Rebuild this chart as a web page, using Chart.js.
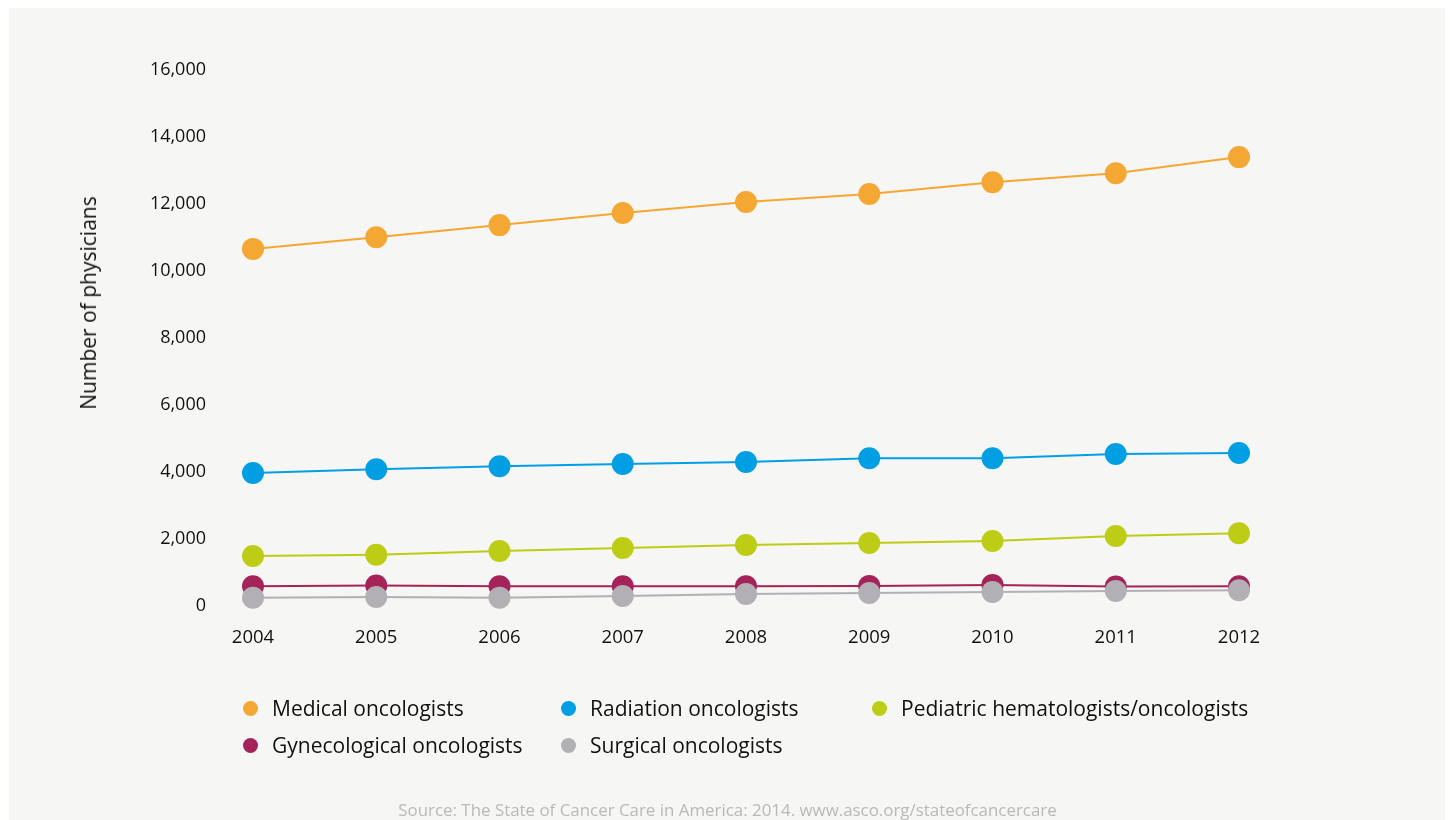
<!DOCTYPE html>
<html><head><meta charset="utf-8">
<script src="https://cdn.jsdelivr.net/npm/chart.js@4/dist/chart.umd.min.js"></script>
<style>
html,body{margin:0;padding:0;background:#fff;width:1450px;height:820px;overflow:hidden;font-family:"Open Sans",sans-serif;}
#panel{position:absolute;left:9px;top:8px;width:1436px;height:812px;background:#f6f6f4;}
#wrap{position:absolute;left:0;top:0;width:1450px;height:820px;}
#ytitle{position:absolute;left:88px;top:303px;transform:translate(-50%,-50%) rotate(-90deg);font-size:21px;color:#111;white-space:nowrap;}
.leg{position:absolute;font-size:21px;color:#111;white-space:nowrap;line-height:24px;}
.leg i{position:absolute;width:15px;height:15px;border-radius:50%;left:-29px;top:5px;}
#source{position:absolute;left:0;width:1455px;text-align:center;top:798px;font-size:16.9px;color:#b9b9b9;}
</style></head>
<body>
<div id="panel"></div>
<div id="wrap"><canvas id="c" width="1450" height="820"></canvas></div>
<div id="ytitle">Number of physicians</div>
<div id="legend"></div>
<div id="source">Source: The State of Cancer Care in America: 2014. www.asco.org/stateofcancercare</div>
<script>
const years = ["2004","2005","2006","2007","2008","2009","2010","2011","2012"];
const medical = [10660, 11010, 11370, 11730, 12060, 12300, 12650, 12920, 13400];
const radiation = [3970, 4080, 4170, 4240, 4300, 4410, 4410, 4540, 4570];
const pediatric = [1490, 1530, 1640, 1730, 1820, 1880, 1940, 2090, 2170];
const gynecological = [590, 610, 590, 590, 590, 600, 630, 580, 590];
const surgical = [250, 270, 250, 300, 360, 390, 420, 450, 470];
const seriesNames = ["Medical oncologists","Radiation oncologists","Pediatric hematologists/oncologists","Gynecological oncologists","Surgical oncologists"];
const seriesColors = ["#f5a733","#009fe3","#bdcc14","#a6235a","#b2b0b4"];
const yTicks = [0,2000,4000,6000,8000,10000,12000,14000,16000];

const allData = [medical, radiation, pediatric, gynecological, surgical];
const drawOrder = [4,3,2,1,0];
const datasets = allData.map((d,i)=>({
  label: seriesNames[i], data: d,
  borderColor: seriesColors[i], backgroundColor: seriesColors[i],
  pointBackgroundColor: seriesColors[i], pointBorderWidth: 0,
  pointRadius: 11, pointHoverRadius: 11, borderWidth: 2, tension: 0,
  clip: false, order: drawOrder[i]
}));

new Chart(document.getElementById('c'), {
  type: 'line',
  data: { labels: years, datasets },
  options: {
    responsive: false, animation: false, events: [],
    layout: { padding: { left: 0, right: 211, top: 70, bottom: 0 } },
    plugins: { legend: { display: false }, tooltip: { enabled: false } },
    scales: {
      x: {
        offset: false,
        grid: { display: false, drawTicks: false }, border: { display: false },
        ticks: { color: '#111', font: { family: 'Open Sans', size: 18.5 }, padding: 21, maxRotation: 0 },
        afterFit: s => { s.height = 214; }
      },
      y: {
        min: 0, max: 16000,
        afterBuildTicks: s => { s.ticks = yTicks.map(v => ({ value: v })); },
        grid: { display: false, drawTicks: false }, border: { display: false },
        ticks: { color: '#111', font: { family: 'Open Sans', size: 18 }, padding: 47,
          callback: v => v.toLocaleString('en-US') },
        afterFit: s => { s.width = 253; }
      }
    }
  }
});

const legPos = [[272,696],[590,696],[901,696],[272,733],[590,733]];
const legEl = document.getElementById('legend');
seriesNames.forEach((n,i)=>{
  const d = document.createElement('div');
  d.className = 'leg';
  d.style.left = legPos[i][0]+'px'; d.style.top = legPos[i][1]+'px';
  d.innerHTML = '<i style="background:'+seriesColors[i]+'"></i>' + n;
  legEl.appendChild(d);
});
</script>
</body></html>
